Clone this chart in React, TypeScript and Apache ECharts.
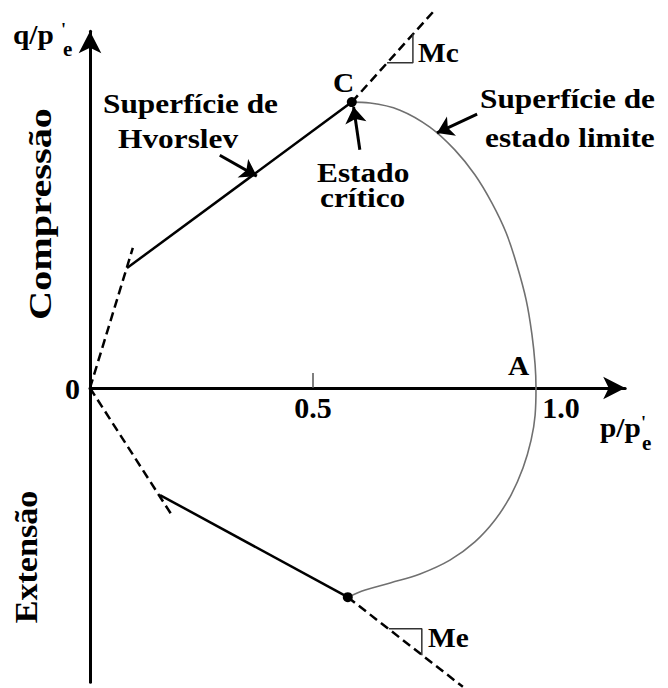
import React, { useEffect, useRef } from "react";
import * as echarts from "echarts";

// Normalised stress space: p/p'e on x, q/p'e on y (same scale on both axes)
const xRange = [0, 1.2];
const yRange = [-0.66, 0.8];
const xLabelValues = [0.5, 1.0];
const xTickValues = [0.5];

// State boundary (limit state) surface, from C round through A to E
const limitSurface: [number, number][] = [
  [0.587, 0.641], [0.628, 0.639], [0.695, 0.623], [0.762, 0.585],
  [0.818, 0.534], [0.863, 0.478], [0.901, 0.415], [0.933, 0.348],
  [0.957, 0.276], [0.978, 0.197], [0.991, 0.119], [0.998, 0.052],
  [1.0, 0.0], [0.998, -0.061], [0.989, -0.117], [0.971, -0.179],
  [0.944, -0.240], [0.908, -0.296], [0.863, -0.345], [0.807, -0.386],
  [0.740, -0.417], [0.673, -0.437], [0.617, -0.453], [0.578, -0.469],
];

// Hvorslev surfaces (compression / extension)
const hvorslevComp: [number, number][] = [[0.083, 0.269], [0.587, 0.641]];
const hvorslevExt: [number, number][] = [[0.157, -0.240], [0.578, -0.469]];

// Critical state lines beyond the critical points (slopes Mc and Me)
const cslComp: [number, number][] = [[0.587, 0.641], [0.769, 0.843]];
const cslExt: [number, number][] = [[0.578, -0.469], [0.836, -0.670]];

// No-tension lines from the origin
const tensionComp: [number, number][] = [[0, 0], [0.096, 0.314]];
const tensionExt: [number, number][] = [[0, 0], [0.186, -0.289]];

// Critical state points
const criticalPoints: [number, number][] = [[0.587, 0.641], [0.578, -0.469]];

// Slope triangles
const slopeMc: [number, number][] = [[0.666, 0.729], [0.724, 0.729], [0.724, 0.794]];
const slopeMe: [number, number][] = [[0.670, -0.540], [0.744, -0.540], [0.744, -0.599]];

// Pointer arrows for the annotations: [from, to]
const pointers: [number, number][][] = [
  [[0.291, 0.522], [0.374, 0.475]], // Superfície de Hvorslev
  [[0.605, 0.534], [0.591, 0.630]], // Estado crítico
  [[0.868, 0.614], [0.778, 0.572]], // Superfície de estado limite
];

const SCALE = 446; // px per unit on both axes
const ORIGIN_X = 90;
const ORIGIN_Y = 388;

const FONT = "'Liberation Serif', 'Times New Roman', serif";

// Text placed by its left edge and baseline
function label(text: string, x: number, baseline: number, size = 28, sx = 1.12) {
  return {
    type: "text",
    x,
    y: baseline - 0.34 * size,
    scaleX: sx,
    silent: true,
    style: {
      text,
      fill: "#000",
      font: `bold ${size}px ${FONT}`,
      textAlign: "left",
      textVerticalAlign: "middle",
    },
  };
}

// Vertical text reading bottom to top, placed by its centre
function vlabel(text: string, cx: number, cy: number, size: number, sx: number) {
  return {
    type: "text",
    x: cx,
    y: cy,
    rotation: Math.PI / 2,
    scaleX: sx,
    silent: true,
    style: {
      text,
      fill: "#000",
      font: `bold ${size}px ${FONT}`,
      textAlign: "center",
      textVerticalAlign: "middle",
    },
  };
}

export default function App() {
  const ref = useRef<HTMLDivElement>(null);

  useEffect(() => {
    if (!ref.current) return;
    const chart = echarts.init(ref.current, null, { renderer: "svg" });

    const gridLeft = ORIGIN_X;
    const gridTop = ORIGIN_Y - yRange[1] * SCALE;
    const gridWidth = (xRange[1] - xRange[0]) * SCALE;
    const gridHeight = (yRange[1] - yRange[0]) * SCALE;

    const solid = { color: "#000", width: 2.5 };
    const dashed = { color: "#000", width: 2.5, type: [9, 5] as number[] };
    const tickFont = { fontFamily: FONT, fontWeight: "bold" as const, fontSize: 30, color: "#000" };

    chart.setOption({
      animation: false,
      backgroundColor: "#fff",
      grid: { left: gridLeft, top: gridTop, width: gridWidth, height: gridHeight, containLabel: false },
      xAxis: {
        type: "value",
        min: xRange[0],
        max: xRange[1],
        axisLine: {
          show: true,
          onZero: true,
          symbol: ["none", "arrow"],
          symbolSize: [17, 22],
          lineStyle: { color: "#000", width: 3 },
        },
        axisTick: {
          show: true,
          inside: true,
          length: 15,
          customValues: xTickValues,
          lineStyle: { color: "#555", width: 1.5 },
        },
        axisLabel: { show: false },
        splitLine: { show: false },
      },
      yAxis: {
        type: "value",
        min: yRange[0],
        max: yRange[1],
        axisLine: {
          show: true,
          onZero: false,
          symbol: ["none", "arrow"],
          symbolSize: [17, 22],
          lineStyle: { color: "#000", width: 3 },
        },
        axisTick: { show: false },
        axisLabel: {
          show: true,
          customValues: [0],
          margin: 10,
          ...tickFont,
          formatter: () => "0",
        },
        splitLine: { show: false },
      },
      series: [
        {
          name: "Superfície de estado limite",
          type: "line",
          data: limitSurface,
          smooth: 0.4,
          showSymbol: false,
          lineStyle: { color: "#707070", width: 1.6 },
          z: 2,
        },
        { name: "Hvorslev (compressão)", type: "line", data: hvorslevComp, showSymbol: false, lineStyle: solid, z: 3 },
        { name: "Hvorslev (extensão)", type: "line", data: hvorslevExt, showSymbol: false, lineStyle: solid, z: 3 },
        { name: "LEC Mc", type: "line", data: cslComp, showSymbol: false, clip: false, lineStyle: dashed, z: 3 },
        { name: "LEC Me", type: "line", data: cslExt, showSymbol: false, clip: false, lineStyle: dashed, z: 3 },
        { name: "Tração nula (c)", type: "line", data: tensionComp, showSymbol: false, lineStyle: dashed, z: 3 },
        { name: "Tração nula (e)", type: "line", data: tensionExt, showSymbol: false, lineStyle: dashed, z: 3 },
        { name: "Mc", type: "line", data: slopeMc, showSymbol: false, lineStyle: { color: "#333", width: 1.5 }, z: 3 },
        { name: "Me", type: "line", data: slopeMe, showSymbol: false, lineStyle: { color: "#333", width: 1.5 }, z: 3 },
        {
          name: "Estado crítico",
          type: "scatter",
          data: criticalPoints,
          symbolSize: 10,
          itemStyle: { color: "#000", opacity: 1 },
          z: 5,
        },
        {
          // tick labels of the p/p'e axis, hung under the zero line
          name: "Rótulos p",
          type: "scatter",
          symbolSize: 0,
          silent: true,
          itemStyle: { color: "#000", opacity: 1 },
          data: xLabelValues.map((v) => ({
            value: [v, 0],
            label: v === 1 ? { offset: [25, 0] } : {},
          })),
          label: {
            show: true,
            position: "bottom",
            distance: 4,
            opacity: 1,
            ...tickFont,
            formatter: (p: any) => Number(p.value[0]).toFixed(1),
          },
          z: 4,
        },
        {
          name: "Setas",
          type: "lines",
          coordinateSystem: "cartesian2d",
          symbol: ["none", "arrow"],
          symbolSize: 16,
          lineStyle: { color: "#000", width: 3, opacity: 1 },
          data: pointers.map((c) => ({ coords: c })),
          z: 6,
        },
      ],
      graphic: [
        label("Superfície de", 103, 113),
        label("Hvorslev", 118, 148),
        label("Superfície de", 480, 108),
        label("estado limite", 485, 147),
        label("Estado", 317, 182),
        label("crítico", 320, 207),
        label("C", 333, 92, 28, 1.05),
        label("Mc", 418, 62, 28, 1.05),
        label("Me", 428, 647, 28, 1.05),
        label("A", 508, 375, 28, 1.05),
        // axis titles q/p'e and p/p'e
        label("q/p", 13, 44, 28, 1.05),
        label("'", 61, 36, 18, 1),
        label("e", 63, 56, 21, 1),
        label("p/p", 600, 437, 28, 1.05),
        label("'", 641, 429, 18, 1),
        label("e", 642, 450, 21, 1),
        vlabel("Compressão", 41, 214, 31, 1.3),
        vlabel("Extensão", 27, 557, 31, 1.1),
      ],
    });

    return () => chart.dispose();
  }, []);

  return (
    <div
      ref={ref}
      style={{ position: "fixed", left: 0, top: 0, width: 668, height: 688, background: "#fff" }}
    />
  );
}
